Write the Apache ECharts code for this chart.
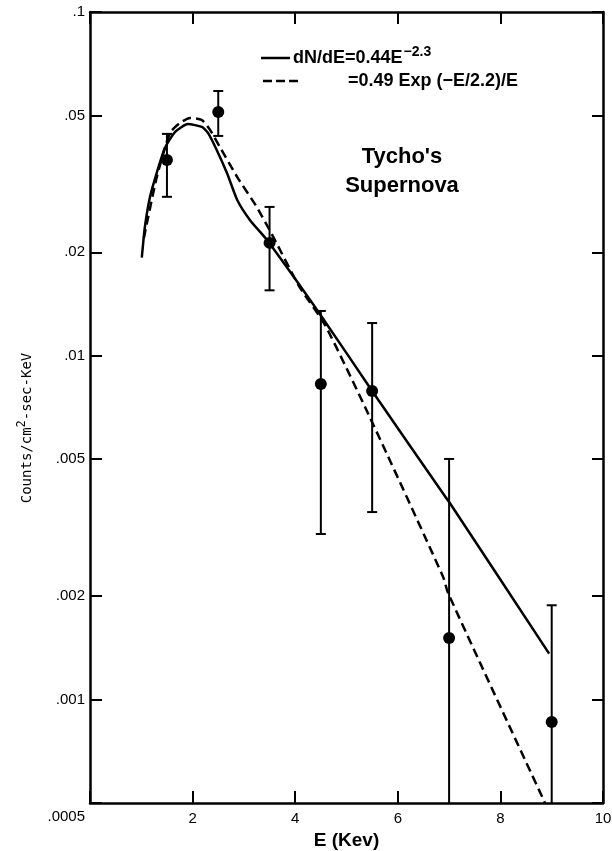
<!DOCTYPE html>
<html>
<head>
<meta charset="utf-8">
<script src="https://cdn.jsdelivr.net/npm/echarts@6/dist/echarts.min.js"></script>
<style>
  html, body { margin: 0; padding: 0; background: #fff; }
  #chart { width: 612px; height: 851px; }
</style>
</head>
<body>
<div id="chart"></div>
<script>
// measured points with error bars
var energy = [1.5, 2.5, 3.5, 4.5, 5.5, 7, 9];
var flux = [0.0371, 0.0512, 0.0213, 0.00828, 0.0079, 0.00151, 0.00086];
var errHigh = [0.0442, 0.0589, 0.0271, 0.0135, 0.01245, 0.00501, 0.00188];
var errLow = [0.029, 0.0436, 0.0155, 0.00303, 0.00351, 0.0005, 0.0005];

// power law fit (solid)
var powerE = [1.01, 1.07, 1.17, 1.30, 1.46, 1.66, 1.91, 2.18, 2.30, 2.47, 2.67, 2.87, 3.12, 3.45, 4.5, 5.5, 6.92, 7.03, 8.95];
var powerFlux = [0.0193, 0.0237, 0.029, 0.034, 0.0402, 0.0448, 0.0472, 0.0463, 0.0445, 0.0397, 0.034, 0.0284, 0.0248, 0.0217, 0.0131, 0.0079, 0.0039, 0.0037, 0.00136];

// exponential fit (dashed)
var expE = [1.05, 1.3, 1.56, 1.75, 1.95, 2.18, 2.34, 2.53, 2.87, 3.25, 3.57, 4.09, 4.58, 5.46, 6.88, 6.98, 8.87];
var expFlux = [0.022, 0.033, 0.0445, 0.0475, 0.0492, 0.0485, 0.0454, 0.0405, 0.0331, 0.0271, 0.0222, 0.0158, 0.0123, 0.0066, 0.00228, 0.00204, 0.0005];

var yTicks = [0.0005, 0.001, 0.002, 0.005, 0.01, 0.02, 0.05, 0.1];
var yTickLabels = ['.0005', '.001', '.002', '.005', '.01', '.02', '.05', '.1'];
var yMin = 0.0005, yMax = 0.1;

var chart = echarts.init(document.getElementById('chart'));

function pairs(xs, ys) {
  return xs.map(function (x, i) { return [x, ys[i]]; });
}

function yLabel(v) {
  var best = 0;
  for (var i = 1; i < yTicks.length; i++) {
    if (Math.abs(Math.log(yTicks[i] / v)) < Math.abs(Math.log(yTicks[best] / v))) best = i;
  }
  return best === 0 ? '{low|' + yTickLabels[0] + '}' : yTickLabels[best];
}

var axisLine = { show: true, onZero: false, lineStyle: { color: '#000', width: 2.5 } };
var tickStyle = { color: '#000', width: 2 };

var option = {
  backgroundColor: '#fff',
  animation: false,
  grid: { left: 90, top: 12, right: 9, bottom: 48, outerBoundsMode: 'none' },
  xAxis: [
    {
      type: 'value', min: 0, max: 10, interval: 2, position: 'bottom',
      axisLine: axisLine,
      axisTick: { show: true, inside: true, length: 12, lineStyle: tickStyle },
      splitLine: { show: false },
      axisLabel: {
        color: '#000', fontSize: 15, fontFamily: 'Liberation Sans', margin: 8,
        formatter: function (v) { return v === 0 ? '' : String(v); }
      },
      name: 'E (Kev)', nameLocation: 'middle', nameGap: 25,
      nameTextStyle: { color: '#000', fontSize: 19, fontWeight: 'bold', fontFamily: 'Liberation Sans' }
    },
    {
      type: 'value', min: 0, max: 10, interval: 2, position: 'top',
      axisLine: axisLine,
      axisTick: { show: true, inside: true, length: 12, lineStyle: tickStyle },
      splitLine: { show: false },
      axisLabel: { show: false }
    }
  ],
  yAxis: [
    {
      type: 'log', logBase: 10, min: yMin, max: yMax, position: 'left',
      axisLine: axisLine,
      axisTick: { show: true, inside: true, length: 12, lineStyle: tickStyle, customValues: yTicks },
      minorTick: { show: false },
      splitLine: { show: false },
      axisLabel: {
        customValues: yTicks, color: '#000', fontSize: 15, fontFamily: 'Liberation Sans', margin: 5,
        formatter: yLabel,
        rich: { low: { fontSize: 15, fontFamily: 'Liberation Sans', color: '#000', padding: [28, 0, 0, 0] } }
      }
    },
    {
      type: 'log', logBase: 10, min: yMin, max: yMax, position: 'right',
      axisLine: axisLine,
      axisTick: { show: true, inside: true, length: 11, lineStyle: tickStyle, customValues: yTicks },
      minorTick: { show: false },
      splitLine: { show: false },
      axisLabel: { show: false }
    }
  ],
  graphic: [
    { type: 'line', shape: { x1: 261, y1: 58, x2: 290, y2: 58 }, style: { stroke: '#000', lineWidth: 2.5 } },
    { type: 'line', shape: { x1: 263, y1: 81, x2: 298, y2: 81 }, style: { stroke: '#000', lineWidth: 2.5, lineDash: [9, 4] } },
    {
      type: 'text', x: 293, y: 58,
      style: {
        text: 'dN/dE=0.44E{sup|\u22122.3}', verticalAlign: 'middle',
        font: 'bold 18px "Liberation Sans"', fill: '#000',
        rich: { sup: { fontSize: 14, fontWeight: 'bold', fontFamily: 'Liberation Sans', padding: [0, 0, 11, 1] } }
      }
    },
    {
      type: 'text', x: 348, y: 81,
      style: { text: '=0.49 Exp (\u2212E/2.2)/E', verticalAlign: 'middle', font: 'bold 18px "Liberation Sans"', fill: '#000' }
    },
    {
      type: 'text', x: 402, y: 157,
      style: { text: "Tycho's", align: 'center', verticalAlign: 'middle', font: 'bold 22px "Liberation Sans"', fill: '#000' }
    },
    {
      type: 'text', x: 402, y: 186,
      style: { text: 'Supernova', align: 'center', verticalAlign: 'middle', font: 'bold 22px "Liberation Sans"', fill: '#000' }
    },
    {
      type: 'text', x: 27, y: 428, rotation: Math.PI / 2,
      style: {
        text: 'Counts/cm{sup|2}-sec-KeV', align: 'center', verticalAlign: 'middle',
        font: '14px "DejaVu Sans Mono"', fill: '#000',
        rich: { sup: { fontSize: 12, fontFamily: 'DejaVu Sans Mono', padding: [0, 0, 10, 0] } }
      }
    }
  ],
  series: [
    {
      name: 'power', type: 'line', data: pairs(powerE, powerFlux),
      showSymbol: false, smooth: 0.2, lineStyle: { color: '#000', width: 2.5 }, z: 2
    },
    {
      name: 'exp', type: 'line', data: pairs(expE, expFlux),
      showSymbol: false, smooth: 0.2, lineStyle: { color: '#000', width: 2.5, type: [9, 5] }, z: 2
    },
    {
      name: 'errors', type: 'custom',
      data: energy.map(function (e, i) { return [e, errLow[i], errHigh[i]]; }),
      encode: { x: 0, y: [1, 2] },
      renderItem: function (params, api) {
        var x = api.value(0);
        var hi = api.coord([x, api.value(2)]);
        var lo = api.coord([x, api.value(1)]);
        var s = { stroke: '#000', lineWidth: 2 };
        var kids = [
          { type: 'line', shape: { x1: hi[0], y1: hi[1], x2: lo[0], y2: lo[1] }, style: s },
          { type: 'line', shape: { x1: hi[0] - 5, y1: hi[1], x2: hi[0] + 5, y2: hi[1] }, style: s }
        ];
        if (api.value(1) > yMin) {
          kids.push({ type: 'line', shape: { x1: lo[0] - 5, y1: lo[1], x2: lo[0] + 5, y2: lo[1] }, style: s });
        }
        return { type: 'group', children: kids };
      },
      z: 3
    },
    {
      name: 'data', type: 'scatter', data: pairs(energy, flux),
      symbol: 'circle', symbolSize: 12, itemStyle: { color: '#000', opacity: 1 }, z: 4
    }
  ]
};

chart.setOption(option);
</script>
</body>
</html>
